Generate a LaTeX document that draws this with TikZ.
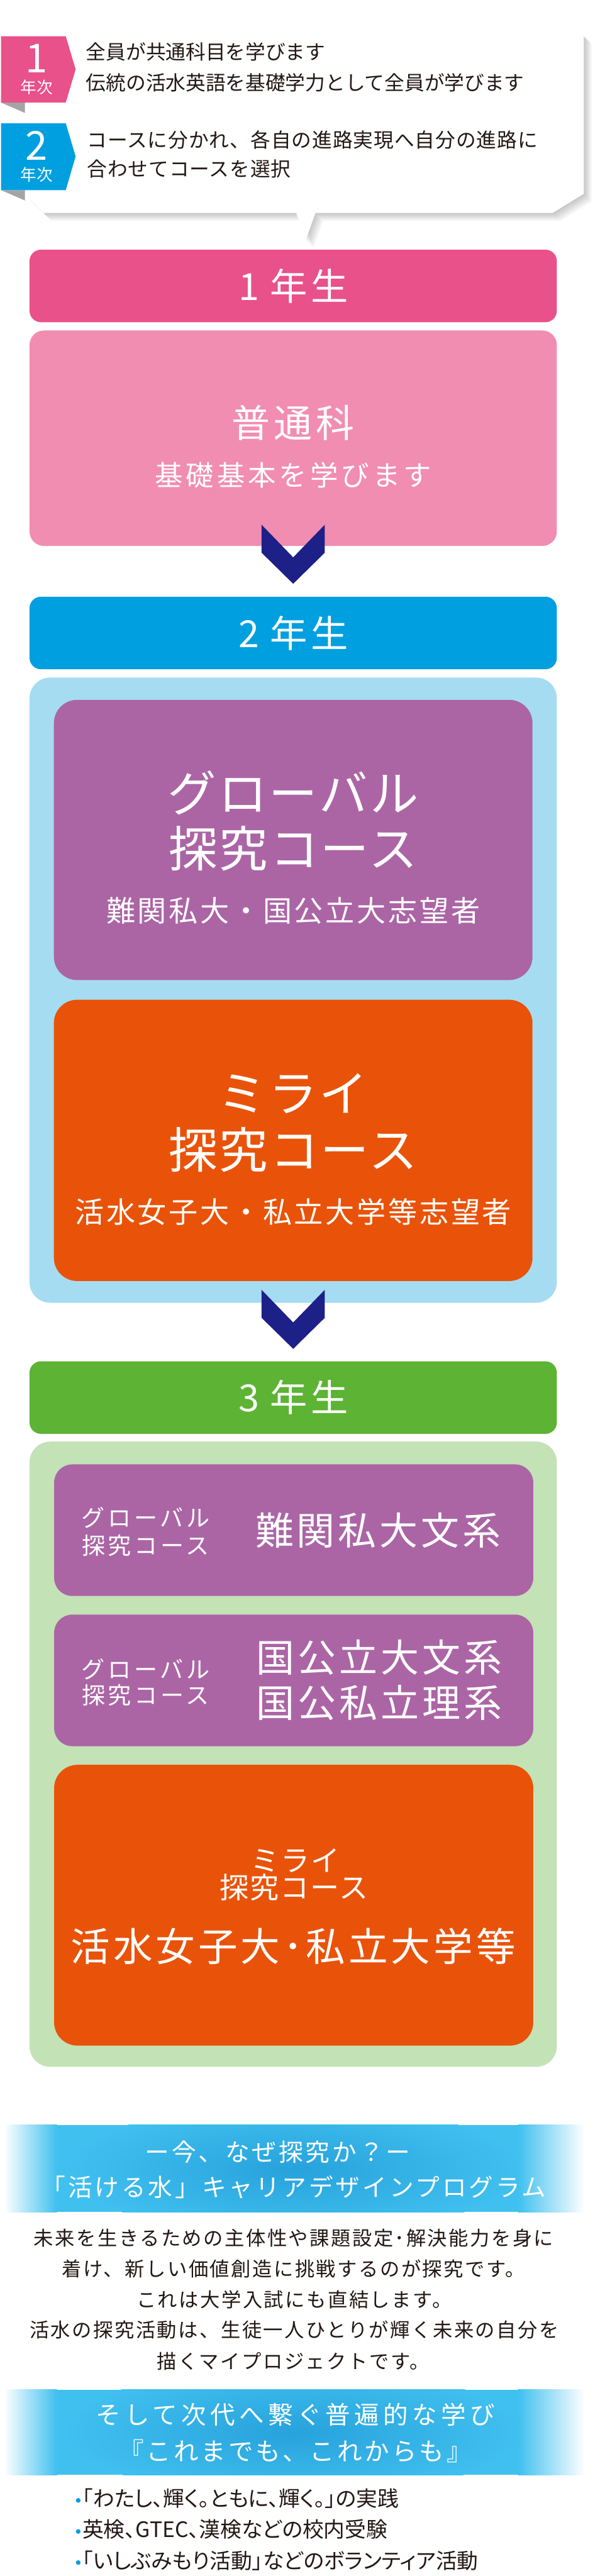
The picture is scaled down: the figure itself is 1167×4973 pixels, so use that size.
\documentclass[tikz,border=0pt]{standalone}
\usepackage{fontspec}
\setmainfont{Noto Sans CJK JP}

\definecolor{ink}{HTML}{231815}
\definecolor{pinkbar}{HTML}{E9518B}
\definecolor{pinkbox}{HTML}{F18DB0}
\definecolor{bluebar}{HTML}{00A0E0}
\definecolor{bluepanel}{HTML}{A6DCF2}
\definecolor{purple}{HTML}{AB65A5}
\definecolor{orange}{HTML}{E95309}
\definecolor{greenbar}{HTML}{5DB334}
\definecolor{greenpanel}{HTML}{C3E2B6}
\definecolor{navy}{HTML}{1D2087}
\definecolor{foldgray}{HTML}{A5A5A5}
\definecolor{bannerblue}{HTML}{40C0EF}
\definecolor{bannerdark}{HTML}{27A2DC}

% font size, and font size with letter spacing
\newcommand\fs[1]{\fontsize{#1}{#1}\selectfont}
\newcommand\fls[2]{\fontsize{#1}{#1}\selectfont\addfontfeature{LetterSpace=#2}}
% proportional (narrow) punctuation and kana
\newcommand\fpr[1]{\fontsize{#1}{#1}\selectfont\addfontfeature{RawFeature=+palt}}

% outline of the speech bubble (tail points down to the first bar)
\newcommand\bubble{(102,20) -- (1067,20) -- (1127,69) -- (1127,374) -- (1067,411)
  -- (609,411) -- (590,464) -- (572,411) -- (84,411) -- (48,376) -- (48,71) -- cycle}

\tikzset{
  yearbar/.style={rounded corners=22pt, minimum width=1018pt, minimum height=140pt,
    inner sep=0pt, text=white},
  panel/.style={rounded corners=40pt, minimum width=1018pt, minimum height=1207pt, inner sep=0pt},
  course/.style={rounded corners=45pt, minimum width=924pt, inner sep=0pt},
  wtext/.style={text=white, inner sep=0pt},
  btext/.style={text=ink, inner sep=0pt},
  chev/.pic={\fill[navy] (-61,0) -- (-61,54) -- (0,114) -- (61,54) -- (61,0) -- (0,63) -- cycle;}
}

\begin{document}
\begin{tikzpicture}[x=1pt, y=-1pt]
  \useasboundingbox (0,0) rectangle (1167,4973);
  \fill[white] (0,0) rectangle (1167,4973);

  % speech bubble with a soft shadow
  \foreach \s in {3,6,...,15}
    \fill[black, opacity=0.045, shift={(\s,\s)}] \bubble;
  \fill[white] \bubble;

  % ribbon badges on the left edge of the bubble
  \fill[foldgray] (2,198) -- (48,198) -- (48,218) -- cycle;
  \fill[pinkbar] (2,70) -- (127,70) -- (146,134) -- (127,198) -- (2,198) -- cycle;
  \node[wtext, font=\fs{77}] (badge1) at (71,113) {1};
  \node[wtext, font=\fs{31}] (badge1y) at (71,169) {年次};
  \fill[foldgray] (2,367) -- (48,367) -- (48,387) -- cycle;
  \fill[bluebar] (2,238) -- (127,238) -- (146,302) -- (127,367) -- (2,367) -- cycle;
  \node[wtext, font=\fs{77}] (badge2) at (71,281) {2};
  \node[wtext, font=\fs{31}] (badge2y) at (71,337) {年次};

  \node[btext, anchor=west, font=\fs{38.5}] (note1a) at (166,100) {全員が共通科目を学びます};
  \node[btext, anchor=west, font=\fs{38.5}] (note1b) at (166,160) {伝統の活水英語を基礎学力として全員が学びます};
  \node[btext, anchor=west, font=\fls{38.5}{3}] (note2a) at (168,270) {コースに分かれ、各自の進路実現へ自分の進路に};
  \node[btext, anchor=west, font=\fls{38.5}{3}] (note2b) at (168,326) {合わせてコースを選択};

  % first year
  \node[yearbar, fill=pinkbar, font=\fls{72}{8}] (bar1) at (566,552) {1 年生};
  \node[rounded corners=28pt, minimum width=1018pt, minimum height=416pt, fill=pinkbox] (box1) at (566,846) {};
  \node[wtext, font=\fls{74}{10}] (futsu) at (566,816) {普通科};
  \node[wtext, font=\fls{54}{11}] (futsusub) at (566,917) {基礎基本を学びます};
  \pic at (566,1013) {chev};

  % second year
  \node[yearbar, fill=bluebar, font=\fls{72}{8}] (bar2) at (566,1222) {2 年生};
  \node[panel, fill=bluepanel] (panel2) at (566,1911.5) {};
  \node[course, fill=purple, minimum height=541pt] (glob2) at (566,1621.5) {};
  \node[wtext, font=\fls{94}{4}] (glob2a) at (566,1530) {グローバル};
  \node[wtext, font=\fls{94}{4}] (glob2b) at (566,1638) {探究コース};
  \node[wtext, font=\fls{56}{8}] (glob2c) at (566,1758) {難関私大・国公立大志望者};
  \node[course, fill=orange, minimum height=543pt] (mirai2) at (566,2201.5) {};
  \node[wtext, font=\fls{94}{4}] (mirai2a) at (566,2111) {ミライ};
  \node[wtext, font=\fls{94}{4}] (mirai2b) at (566,2220) {探究コース};
  \node[wtext, font=\fls{56}{8}] (mirai2c) at (566,2340) {活水女子大・私立大学等志望者};
  \pic at (566,2490) {chev};

  % third year
  \node[yearbar, fill=greenbar, font=\fls{72}{8}] (bar3) at (566,2698) {3 年生};
  \node[panel, fill=greenpanel] (panel3) at (566,3386.5) {};
  \node[course, rounded corners=35pt, minimum width=925pt, minimum height=254pt, fill=purple] (glob3a) at (567,2954) {};
  \node[wtext, font=\fls{45}{13}] (glob3a1) at (281,2930) {グローバル};
  \node[wtext, font=\fls{45}{13}] (glob3a2) at (281,2983) {探究コース};
  \node[wtext, font=\fls{74}{8}] (glob3a3) at (730,2955) {難関私大文系};
  \node[course, rounded corners=35pt, minimum width=925pt, minimum height=254pt, fill=purple] (glob3b) at (567,3244) {};
  \node[wtext, font=\fls{45}{13}] (glob3b1) at (281,3222) {グローバル};
  \node[wtext, font=\fls{45}{13}] (glob3b2) at (281,3273) {探究コース};
  \node[wtext, font=\fls{74}{8}] (glob3b3) at (732,3200) {国公立大文系};
  \node[wtext, font=\fls{74}{8}] (glob3b4) at (732,3287) {国公私立理系};
  \node[course, minimum width=925pt, minimum height=542pt, fill=orange] (mirai3) at (567,3678) {};
  \node[wtext, font=\fls{56}{4}] (mirai3a) at (570,3592) {ミライ};
  \node[wtext, font=\fls{56}{4}] (mirai3b) at (568,3643) {探究コース};
  \node[wtext, font=\fls{76}{8}] (mirai3c) at (566,3757) {活水女子大･私立大学等};

  % glowing blue banners, faded at both ends
  \foreach \top/\bot/\mid in {4102/4270/4188, 4613/4778/4695} {
    \fill[bannerblue] (108,\top) rectangle (1002,\bot);
    \shade[left color=white, right color=bannerblue] (8,\top) rectangle (110,\bot);
    \shade[left color=bannerblue, right color=white] (1000,\top) rectangle (1128,\bot);
    \begin{scope}
      \clip (110,\top) rectangle (1000,\bot);
      \shade[inner color=bannerdark, outer color=bannerblue] (566,\mid) ellipse (440 and 125);
    \end{scope}
  }
  \node[wtext, font=\fls{47}{10}] (why) at (536,4155) {ー今、なぜ探究か？ー};
  \node[wtext, font=\fls{47}{10}] (program) at (567,4222) {「活ける水」キャリアデザインプログラム};

  \node[btext, font=\fls{38}{8}] (para1) at (567,4320) {未来を生きるための主体性や課題設定･解決能力を身に};
  \node[btext, font=\fls{38}{8}] (para2) at (567,4380) {着け、新しい価値創造に挑戦するのが探究です。};
  \node[btext, font=\fls{38}{8}] (para3) at (568,4439) {これは大学入試にも直結します。};
  \node[btext, font=\fls{38}{8}] (para4) at (568,4498) {活水の探究活動は、生徒一人ひとりが輝く未来の自分を};
  \node[btext, font=\fls{38}{8}] (para5) at (566,4558) {描くマイプロジェクトです。};

  \node[wtext, font=\fls{48}{16}] (next) at (570,4662) {そして次代へ繋ぐ普遍的な学び};
  \node[wtext, font=\fls{48}{10}] (always) at (570,4732) {『これまでも、これからも』};

  % bullet list
  \foreach \y/\txt/\nm in {4823/「わたし、輝く。ともに、輝く。」の実践/item1,
      4883/英検、GTEC、漢検などの校内受験/item2,
      4943/「いしぶみもり活動」などのボランティア活動/item3} {
    \fill[bluebar] (151,\y+4) circle (4.5);
    \node[btext, anchor=west, font=\fpr{41}] (\nm) at (159,\y) {\txt};
  }
\end{tikzpicture}
\end{document}
